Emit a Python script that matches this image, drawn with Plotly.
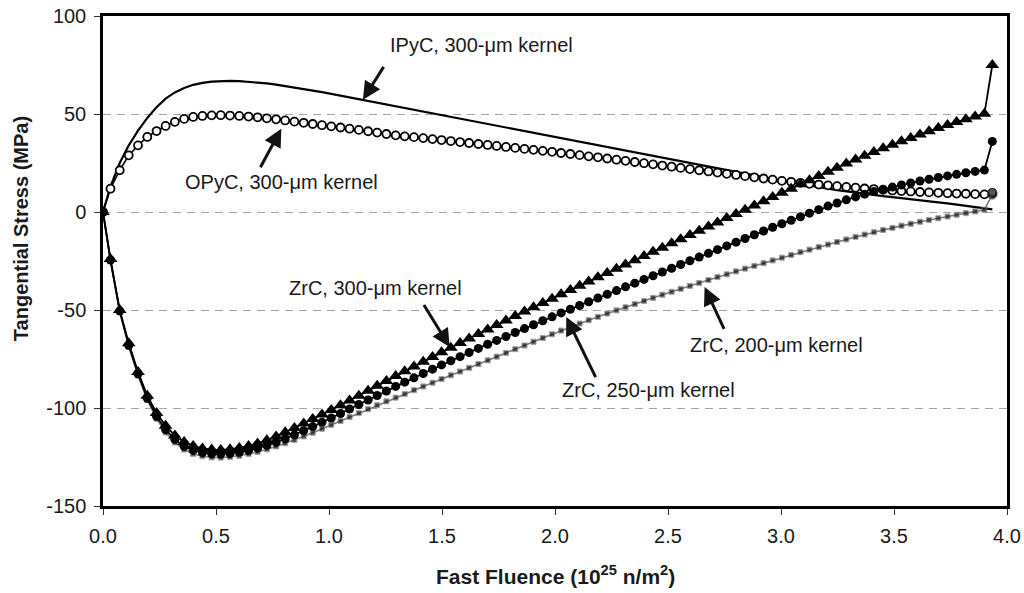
import plotly.graph_objects as go

# Fast fluence (10^25 n/m^2) at each computed point
fluence = [0.0, 0.033, 0.074, 0.114, 0.155, 0.196, 0.237, 0.277, 0.318, 0.359,
           0.399, 0.440, 0.481, 0.521, 0.562, 0.603, 0.644, 0.684, 0.725, 0.766,
           0.806, 0.847, 0.888, 0.928, 0.969, 1.010, 1.051, 1.091, 1.132, 1.173,
           1.213, 1.254, 1.295, 1.335, 1.376, 1.417, 1.458, 1.498, 1.539, 1.580,
           1.620, 1.661, 1.702, 1.742, 1.783, 1.824, 1.865, 1.905, 1.946, 1.987,
           2.027, 2.068, 2.109, 2.149, 2.190, 2.231, 2.272, 2.312, 2.353, 2.394,
           2.434, 2.475, 2.516, 2.556, 2.597, 2.638, 2.679, 2.719, 2.760, 2.801,
           2.841, 2.882, 2.923, 2.963, 3.004, 3.045, 3.086, 3.126, 3.167, 3.208,
           3.248, 3.289, 3.330, 3.370, 3.411, 3.452, 3.493, 3.533, 3.574, 3.615,
           3.655, 3.696, 3.737, 3.777, 3.818, 3.859, 3.900, 3.935]

ipyc_300 = [0.0, 13.0, 25.0, 34.0, 41.5, 48.0, 53.5, 57.8, 61.0, 63.3,
            64.9, 65.9, 66.5, 66.8, 66.9, 66.8, 66.5, 66.1, 65.6, 65.0,
            64.3, 63.6, 62.8, 62.0, 61.2, 60.3, 59.4, 58.5, 57.6, 56.7,
            55.8, 54.9, 54.0, 53.1, 52.2, 51.2, 50.3, 49.4, 48.5, 47.6,
            46.7, 45.8, 44.8, 43.9, 43.0, 42.1, 41.2, 40.3, 39.4, 38.5,
            37.6, 36.7, 35.8, 34.9, 34.0, 33.1, 32.2, 31.3, 30.4, 29.5,
            28.6, 27.7, 26.8, 25.9, 25.0, 24.1, 23.2, 22.3, 21.4, 20.5,
            19.6, 18.7, 17.8, 16.9, 16.0, 15.1, 14.2, 13.4, 12.6, 11.9,
            11.2, 10.5, 9.9, 9.3, 8.7, 8.1, 7.6, 7.0, 6.5, 6.0,
            5.4, 4.9, 4.4, 3.8, 3.3, 2.7, 2.1, 1.3]

opyc_300 = [0.0, 11.9, 21.3, 28.9, 34.0, 38.3, 41.3, 43.9, 46.0, 47.5,
            48.5, 49.0, 49.3, 49.4, 49.2, 49.0, 48.7, 48.3, 47.8, 47.3,
            46.7, 46.1, 45.5, 44.9, 44.3, 43.7, 43.1, 42.5, 41.9, 41.2,
            40.5, 39.8, 39.1, 38.6, 38.2, 37.7, 37.2, 36.7, 36.2, 35.7,
            35.2, 34.7, 34.2, 33.7, 33.2, 32.7, 32.2, 31.7, 31.2, 30.7,
            30.1, 29.6, 29.0, 28.4, 27.9, 27.3, 26.7, 26.1, 25.5, 24.9,
            24.3, 23.7, 23.1, 22.5, 21.9, 21.3, 20.7, 20.1, 19.5, 18.9,
            18.3, 17.7, 17.1, 16.5, 15.9, 15.4, 14.9, 14.4, 14.0, 13.6,
            13.2, 12.8, 12.4, 12.0, 11.7, 11.3, 11.0, 10.7, 10.5, 10.2,
            10.0, 9.8, 9.6, 9.4, 9.3, 9.1, 9.0, 9.8]

zrc_300 = [0.0, -24.0, -50.0, -67.0, -81.6, -93.8, -102.5, -109.0, -114.0, -117.3,
           -119.4, -120.6, -121.2, -121.4, -121.1, -120.4, -119.4, -118.1, -116.5, -114.6,
           -112.4, -110.2, -107.9, -105.6, -103.3, -101.0, -98.6, -96.2, -93.7, -91.2,
           -88.7, -86.2, -83.7, -81.3, -78.8, -76.4, -74.0, -71.6, -69.2, -66.8,
           -64.5, -62.2, -59.9, -57.6, -55.3, -53.0, -50.8, -48.6, -46.4, -44.2,
           -42.0, -39.8, -37.6, -35.4, -33.3, -31.1, -29.0, -26.8, -24.6, -22.5,
           -20.3, -18.2, -16.0, -13.9, -11.7, -9.6, -7.4, -5.3, -3.1, -1.0,
           1.2, 3.3, 5.5, 7.6, 9.8, 11.9, 14.1, 16.2, 18.4, 20.5,
           22.6, 24.7, 26.8, 28.7, 30.6, 32.5, 34.3, 36.1, 37.8, 39.5,
           41.2, 42.8, 44.4, 45.9, 47.3, 48.7, 50.1, 75.0]

zrc_250 = [0.0, -24.5, -50.5, -68.0, -82.5, -95.0, -104.2, -111.0, -116.0, -119.5,
           -121.6, -122.8, -123.4, -123.5, -123.2, -122.6, -121.7, -120.5, -119.1, -117.5,
           -115.7, -113.7, -111.6, -109.5, -107.3, -105.1, -102.8, -100.5, -98.2, -95.9,
           -93.6, -91.3, -89.0, -86.8, -84.6, -82.4, -80.2, -78.0, -75.9, -73.8,
           -71.7, -69.6, -67.5, -65.5, -63.5, -61.5, -59.5, -57.5, -55.5, -53.5,
           -51.5, -49.6, -47.7, -45.8, -43.9, -42.0, -40.1, -38.2, -36.3, -34.4,
           -32.5, -30.6, -28.7, -26.8, -24.9, -23.0, -21.1, -19.2, -17.3, -15.4,
           -13.5, -11.6, -9.7, -7.8, -6.0, -4.2, -2.4, -0.6, 1.2, 3.0,
           4.6, 6.2, 7.7, 9.1, 10.4, 11.6, 12.7, 13.8, 14.8, 15.8,
           16.7, 17.6, 18.4, 19.2, 20.0, 20.7, 21.4, 36.0]

zrc_200 = [0.0, -25.0, -51.0, -68.8, -83.5, -96.0, -105.5, -112.5, -117.6, -121.2,
           -123.4, -124.6, -125.2, -125.3, -125.0, -124.4, -123.5, -122.4, -121.1, -119.6,
           -118.0, -116.3, -114.5, -112.6, -110.6, -108.6, -106.6, -104.6, -102.6, -100.6,
           -98.6, -96.6, -94.7, -92.8, -90.9, -89.0, -87.1, -85.2, -83.3, -81.4,
           -79.5, -77.6, -75.7, -73.8, -71.9, -70.0, -68.1, -66.2, -64.3, -62.4,
           -60.5, -58.7, -56.9, -55.2, -53.5, -51.8, -50.2, -48.6, -47.0, -45.4,
           -43.8, -42.2, -40.7, -39.2, -37.7, -36.2, -34.7, -33.2, -31.8, -30.3,
           -28.9, -27.5, -26.1, -24.7, -23.3, -21.9, -20.5, -19.2, -17.9, -16.6,
           -15.3, -14.0, -12.7, -11.5, -10.3, -9.2, -8.1, -7.0, -6.0, -5.0,
           -4.1, -3.2, -2.3, -1.4, -0.6, 0.3, 1.1, 9.0]

x_ticks = [0.0, 0.5, 1.0, 1.5, 2.0, 2.5, 3.0, 3.5, 4.0]
x_tick_labels = ["0.0", "0.5", "1.0", "1.5", "2.0", "2.5", "3.0", "3.5", "4.0"]
y_ticks = [-150, -100, -50, 0, 50, 100]
y_tick_labels = ["-150", "-100", "-50", "0", "50", "100"]

FONT = "Liberation Sans, Arial, sans-serif"
TXT = "#1a1a1a"

n = len(fluence)
fig = go.Figure()

fig.add_trace(go.Scatter(x=fluence, y=ipyc_300, mode="lines",
                         line=dict(color="black", width=2.2), name="IPyC, 300-μm kernel"))
fig.add_trace(go.Scatter(x=fluence, y=opyc_300, mode="lines+markers",
                         line=dict(color="black", width=1.6),
                         marker=dict(symbol="circle", size=8, color="white",
                                     line=dict(color="black", width=1.8)),
                         name="OPyC, 300-μm kernel"))
fig.add_trace(go.Scatter(x=fluence, y=zrc_200, mode="lines+markers",
                         line=dict(color="#7a7a7a", width=1.6),
                         marker=dict(symbol=["square"] * (n - 1) + ["circle"],
                                     size=[5] * (n - 1) + [10], color="#111111"),
                         name="ZrC, 200-μm kernel"))
fig.add_trace(go.Scatter(x=fluence, y=zrc_250, mode="lines+markers",
                         line=dict(color="black", width=1.8),
                         marker=dict(symbol="circle", size=9, color="black"),
                         name="ZrC, 250-μm kernel"))
fig.add_trace(go.Scatter(x=fluence, y=zrc_300, mode="lines+markers",
                         line=dict(color="black", width=1.8),
                         marker=dict(symbol="triangle-up", size=12, color="black"),
                         name="ZrC, 300-μm kernel"))

# label texts (left-anchored) and arrows (tail -> tip), in data units
labels = [
    ("IPyC, 300-μm kernel", 1.262, 85.3),
    ("OPyC, 300-μm kernel", 0.353, 15.2),
    ("ZrC, 300-μm kernel", 0.812, -39.0),
    ("ZrC, 250-μm kernel", 2.021, -91.0),
    ("ZrC, 200-μm kernel", 2.588, -68.0),
]
arrows = [
    (1.246, 74.8, 1.150, 57.3),
    (0.693, 22.1, 0.789, 42.5),
    (1.416, -46.7, 1.534, -68.9),
    (2.183, -85.0, 2.050, -53.6),
    (2.751, -60.4, 2.662, -38.3),
]

annotations = []
for text, lx, ly in labels:
    annotations.append(dict(x=lx, y=ly, xref="x", yref="y", text=text, showarrow=False,
                            xanchor="left", yanchor="middle",
                            font=dict(family=FONT, size=20, color=TXT)))
for tx, ty, hx, hy in arrows:
    annotations.append(dict(x=hx, y=hy, ax=tx, ay=ty, xref="x", yref="y",
                            axref="x", ayref="y", text="", showarrow=True,
                            arrowhead=2, arrowsize=1.2, arrowwidth=3, arrowcolor="#111111",
                            standoff=0, startstandoff=0))

annotations.append(dict(x=-0.0907, y=0.565, xref="paper", yref="paper",
                        text="<b>Tangential Stress (MPa)</b>", showarrow=False,
                        textangle=-90, xanchor="center", yanchor="middle",
                        font=dict(family=FONT, size=20, color=TXT)))
annotations.append(dict(x=0.5, y=-0.141, xref="paper", yref="paper",
                        text="<b>Fast Fluence (10<sup>25</sup> n/m<sup>2</sup>)</b>",
                        showarrow=False, xanchor="center", yanchor="middle",
                        font=dict(family=FONT, size=21, color=TXT)))

fig.update_layout(
    width=1024, height=593,
    margin=dict(l=103, r=17, t=16, b=87, autoexpand=False),
    paper_bgcolor="white", plot_bgcolor="white",
    showlegend=False,
    font=dict(family=FONT, size=20, color=TXT),
    annotations=annotations,
    xaxis=dict(range=[0, 4], tickvals=x_ticks, ticktext=x_tick_labels,
               automargin=False, showgrid=False, zeroline=False,
               showline=True, linecolor="black", linewidth=2.5, mirror=True,
               ticks="outside", ticklen=6, tickwidth=1, tickcolor="#333333",
               ticklabelstandoff=4,
               tickfont=dict(family=FONT, size=20, color=TXT)),
    yaxis=dict(range=[-150, 100], tickvals=y_ticks, ticktext=y_tick_labels,
               automargin=False,
               showgrid=True, gridcolor="#a6a6a6", gridwidth=1, griddash="8px,6px",
               zeroline=False,
               showline=True, linecolor="black", linewidth=2.5, mirror=True,
               ticks="outside", ticklen=6, tickwidth=1, tickcolor="#333333",
               ticklabelstandoff=4,
               tickfont=dict(family=FONT, size=20, color=TXT)),
)

fig.write_html("out.html")
